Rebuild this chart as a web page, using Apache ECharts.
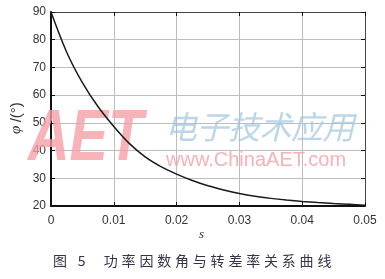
<!DOCTYPE html>
<html>
<head>
<meta charset="utf-8">
<script src="https://cdn.jsdelivr.net/npm/echarts@6/dist/echarts.min.js"></script>
<style>
html,body{margin:0;padding:0;background:#fff;}
#c{width:385px;height:279px;}
</style>
</head>
<body>
<div id="c"></div>
<script>
// Data
var slip = [0, 0.0025, 0.005, 0.0075, 0.01, 0.0125, 0.015, 0.0175, 0.02, 0.0225, 0.025, 0.0275, 0.03, 0.0325, 0.035, 0.0375, 0.04, 0.0425, 0.045, 0.0475, 0.05];
var phi  = [90, 75.5, 64.5, 55.8, 48.7, 42.5, 37.7, 34.2, 31.5, 29.2, 27.3, 25.8, 24.5, 23.5, 22.75, 22.15, 21.65, 21.25, 20.9, 20.6, 20.3];
var xTicks = [0, 0.01, 0.02, 0.03, 0.04, 0.05];
var yTicks = [20, 30, 40, 50, 60, 70, 80, 90];
var xName = 's';
var yName = 'φ/(°)';
var caption = '图 5  功率因数角与转差率关系曲线';

var chart = echarts.init(document.getElementById('c'));
var pts = slip.map(function (s, i) { return [s, phi[i]]; });

var gridL = 51, gridR = 20, gridT = 12, gridB = 73;

// caption characters laid out with wide spacing
var capEls = [];
var capChars = caption.split('');
var cx = 53;
for (var i = 0; i < capChars.length; i++) {
  var ch = capChars[i];
  if (ch === ' ') { cx += 7; continue; }
  capEls.push({
    type: 'text', left: cx, top: 254, silent: true,
    style: { text: ch, font: '14px "Noto Sans CJK SC", serif', fill: '#34344a' }
  });
  cx += (ch === '5') ? 12 : 17.8;
}

var wmChars = '电子技术应用'.split('');
var wmEls = wmChars.map(function (ch, i) {
  return {
    type: 'text', left: 165 + i * 31.5, top: 111, z: 1, silent: true,
    style: { text: ch, font: 'italic 32px "Noto Sans CJK SC"', fill: 'rgba(160,196,224,0.7)' }
  };
});

var option = {
  animation: false,
  backgroundColor: '#fff',
  grid: { left: gridL, right: gridR, top: gridT, bottom: gridB, containLabel: false },
  xAxis: [{
    type: 'value', min: xTicks[0], max: xTicks[xTicks.length - 1], interval: 0.01,
    axisLine: { show: true, onZero: false, lineStyle: { color: '#111', width: 2 } },
    axisTick: { show: true, inside: true, length: 4, lineStyle: { color: '#111' } },
    axisLabel: {
      margin: 9, color: '#333', fontSize: 12, fontFamily: 'Liberation Sans, Arial',
      formatter: function (v) { return v === 0 ? '0' : v.toFixed(2); }
    },
    splitLine: { show: true, lineStyle: { color: '#bdbdbd', width: 1 } }
  }, {
    type: 'value', position: 'top', min: xTicks[0], max: xTicks[xTicks.length - 1], interval: 0.01,
    axisLine: { show: true, onZero: false, lineStyle: { color: '#444', width: 1 } },
    axisTick: { show: true, inside: true, length: 4, lineStyle: { color: '#111' } },
    axisLabel: { show: false }, splitLine: { show: false }
  }],
  yAxis: [{
    type: 'value', min: yTicks[0], max: yTicks[yTicks.length - 1], interval: 10,
    axisLine: { show: true, onZero: false, lineStyle: { color: '#111', width: 2 } },
    axisTick: { show: true, inside: true, length: 4, lineStyle: { color: '#111' } },
    axisLabel: { margin: 5, color: '#333', fontSize: 12, fontFamily: 'Liberation Sans, Arial' },
    splitLine: { show: true, lineStyle: { color: '#bdbdbd', width: 1 } }
  }, {
    type: 'value', position: 'right', min: yTicks[0], max: yTicks[yTicks.length - 1], interval: 10,
    axisLine: { show: true, onZero: false, lineStyle: { color: '#444', width: 1 } },
    axisTick: { show: true, inside: true, length: 4, lineStyle: { color: '#111' } },
    axisLabel: { show: false }, splitLine: { show: false }
  }],
  series: [{
    type: 'line', data: pts, xAxisIndex: 0, yAxisIndex: 0,
    smooth: 0.3, showSymbol: false, z: 5,
    lineStyle: { color: '#1a1a1a', width: 1.5 }
  }],
  graphic: [
    {
      type: 'text', left: 28, top: 104, z: 1, silent: true, scaleX: 0.8,
      style: { text: 'AET', font: 'italic bold 72px "Liberation Sans", Arial', fill: 'rgba(245,160,165,0.8)' }
    },
    {
      type: 'text', left: 166, top: 150, z: 1, silent: true,
      style: { text: 'www.ChinaAET.com', font: '20px "Liberation Sans", Arial', fill: 'rgba(245,165,170,0.85)' }
    },
    {
      type: 'text', left: 199, top: 228, silent: true,
      style: { text: xName, font: 'italic 13px "Liberation Serif", serif', fill: '#333' }
    },
    {
      type: 'text', x: 9, y: 134, rotation: Math.PI / 2, silent: true,
      style: {
        text: '{i|φ} {n|/(°)}',
        rich: {
          i: { font: 'italic 15px "Liberation Serif", serif', fill: '#333' },
          n: { font: '15px "Liberation Sans", Arial', fill: '#333' }
        }
      }
    }
  ].concat(wmEls).concat(capEls)
};
chart.setOption(option);
</script>
</body>
</html>
